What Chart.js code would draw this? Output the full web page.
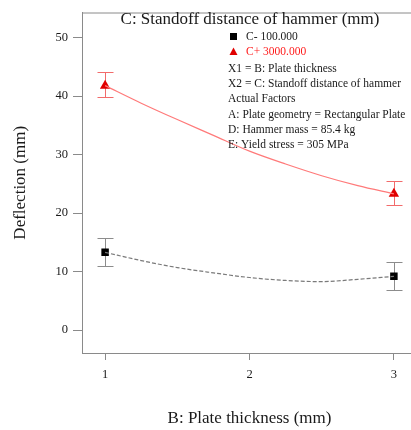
<!DOCTYPE html>
<html>
<head>
<meta charset="utf-8">
<script src="https://cdn.jsdelivr.net/npm/chart.js@4/dist/chart.umd.min.js"></script>
<style>
  html, body { margin: 0; padding: 0; background: #fff; overflow: hidden; width: 411px; height: 430px; }
  #wrap { width: 425px; height: 430px; }
</style>
</head>
<body>
<div id="wrap"><canvas id="chart" width="425" height="430"></canvas></div>
<script>
// --- donnees ---
const plateThickness = [1, 3];
const deflLow = [13.3, 9.2];          // C- 100.000
const errLowTop = [15.8, 11.7];
const errLowBot = [10.9, 6.85];
const deflHigh = [41.8, 23.3];        // C+ 3000.000
const errHighTop = [44.05, 25.5];
const errHighBot = [39.85, 21.4];

// courbes du modele
const curveX = [1, 1.25, 1.5, 1.75, 2, 2.25, 2.5, 2.75, 3];
const curveLow = [13.3, 11.9, 10.7, 9.8, 9.0, 8.5, 8.3, 8.7, 9.2];
const curveHigh = [41.8, 38.8, 36.0, 33.3, 30.6, 28.4, 26.4, 24.7, 23.3];

const xTicks = [1, 2, 3];
const yTicks = [0, 10, 20, 30, 40, 50];

const titleText = 'C: Standoff distance of hammer (mm)';
const legendLines = [
  'X1 = B: Plate thickness',
  'X2 = C: Standoff distance of hammer',
  'Actual Factors',
  'A: Plate geometry = Rectangular Plate',
  'D: Hammer mass = 85.4 kg',
  'E: Yield stress = 305 MPa'
];

const serif = '"Liberation Serif", "DejaVu Serif", serif';
const axisGray = '#8a8a8a';

function pts(xs, ys) {
  return xs.map((x, i) => ({x: x, y: ys[i]}));
}

// --- barres d'erreur (sous les points) ---
const errorBars = {
  id: 'errorBars',
  beforeDatasetsDraw(chart) {
    const ctx = chart.ctx;
    const xs = chart.scales.x, ys = chart.scales.y;
    ctx.save();
    function bars(tops, bots, color) {
      ctx.strokeStyle = color;
      ctx.lineWidth = 1;
      plateThickness.forEach((x, i) => {
        const px = Math.round(xs.getPixelForValue(x)) + 0.5;
        const t = Math.round(ys.getPixelForValue(tops[i])) + 0.5;
        const b = Math.round(ys.getPixelForValue(bots[i])) + 0.5;
        ctx.beginPath();
        ctx.moveTo(px, t); ctx.lineTo(px, b);
        ctx.moveTo(px - 8, t); ctx.lineTo(px + 8, t);
        ctx.moveTo(px - 8, b); ctx.lineTo(px + 8, b);
        ctx.stroke();
      });
    }
    bars(errLowTop, errLowBot, '#8c8c8c');
    bars(errHighTop, errHighBot, '#f26b6b');
    ctx.restore();
  }
};

// --- cadre, titre et legende ---
const extras = {
  id: 'extras',
  afterDatasetsDraw(chart) {
    const ctx = chart.ctx;
    const a = chart.chartArea;
    ctx.save();
    ctx.strokeStyle = axisGray;
    ctx.lineWidth = 1;
    ctx.beginPath();
    ctx.moveTo(a.left + 0.5, a.bottom);
    ctx.lineTo(a.left + 0.5, a.top + 0.5);
    ctx.lineTo(a.right, a.top + 0.5);
    ctx.stroke();

    // titre
    ctx.fillStyle = '#1a1a1a';
    ctx.font = '17px ' + serif;
    ctx.textAlign = 'center';
    ctx.textBaseline = 'middle';
    ctx.fillText(titleText, 250, 20);

    // legende
    ctx.textAlign = 'left';
    ctx.font = '11.5px ' + serif;
    ctx.fillStyle = '#000';
    ctx.fillRect(230, 33, 7, 7);
    ctx.fillStyle = '#1a1a1a';
    ctx.fillText('C- 100.000', 246, 37);
    ctx.fillStyle = '#e00000';
    ctx.beginPath();
    ctx.moveTo(233.5, 47.5); ctx.lineTo(237.5, 55); ctx.lineTo(229.5, 55);
    ctx.closePath();
    ctx.fill();
    ctx.fillStyle = '#ff1a1a';
    ctx.fillText('C+ 3000.000', 246, 52);
    ctx.fillStyle = '#1a1a1a';
    legendLines.forEach((t, i) => {
      ctx.fillText(t, 228, 69 + i * 15.2);
    });
    ctx.restore();
  }
};

const ctx = document.getElementById('chart').getContext('2d');
new Chart(ctx, {
  type: 'scatter',
  data: {
    datasets: [
      {
        label: 'courbe C+',
        data: pts(curveX, curveHigh),
        showLine: true,
        borderColor: '#ff7a7a',
        borderWidth: 1.2,
        pointRadius: 0,
        cubicInterpolationMode: 'monotone'
      },
      {
        label: 'courbe C-',
        data: pts(curveX, curveLow),
        showLine: true,
        borderColor: '#7a7a7a',
        borderWidth: 1.2,
        borderDash: [4, 2],
        pointRadius: 0,
        cubicInterpolationMode: 'monotone'
      },
      {
        label: 'C- 100.000',
        data: pts(plateThickness, deflLow),
        pointStyle: 'rect',
        pointRadius: 5.3,
        backgroundColor: '#000',
        borderColor: '#000',
        borderWidth: 0
      },
      {
        label: 'C+ 3000.000',
        data: pts(plateThickness, deflHigh),
        pointStyle: 'triangle',
        pointRadius: 6,
        backgroundColor: '#e00000',
        borderColor: '#e00000',
        borderWidth: 0
      }
    ]
  },
  options: {
    responsive: false,
    animation: false,
    layout: { padding: { left: 0, top: 8, right: 8, bottom: 0 } },
    plugins: {
      legend: { display: false },
      tooltip: { enabled: false }
    },
    scales: {
      x: {
        type: 'linear',
        min: 0.84,
        max: 3.16,
        afterBuildTicks: s => { s.ticks = xTicks.map(v => ({value: v})); },
        afterFit: s => { s.height = 77; },
        grid: { drawOnChartArea: false, drawTicks: true, tickLength: 7, color: axisGray },
        border: { display: true, color: axisGray },
        ticks: { color: '#1a1a1a', padding: 7, font: { family: serif, size: 12.5 } },
        title: {
          display: true,
          text: 'B: Plate thickness (mm)',
          color: '#1a1a1a',
          font: { family: serif, size: 17 },
          padding: { top: 0, bottom: 1 }
        }
      },
      y: {
        min: -3.9,
        max: 54.3,
        afterBuildTicks: s => { s.ticks = yTicks.map(v => ({value: v})); },
        afterFit: s => { s.width = 82; },
        grid: { drawOnChartArea: false, drawTicks: true, tickLength: 9, color: axisGray },
        border: { display: true, color: axisGray },
        ticks: { color: '#1a1a1a', padding: 5, font: { family: serif, size: 12.5 } },
        title: {
          display: true,
          text: 'Deflection (mm)',
          color: '#1a1a1a',
          font: { family: serif, size: 17 },
          padding: { top: 10, bottom: 0 }
        }
      }
    }
  },
  plugins: [errorBars, extras]
});
</script>
</body>
</html>
